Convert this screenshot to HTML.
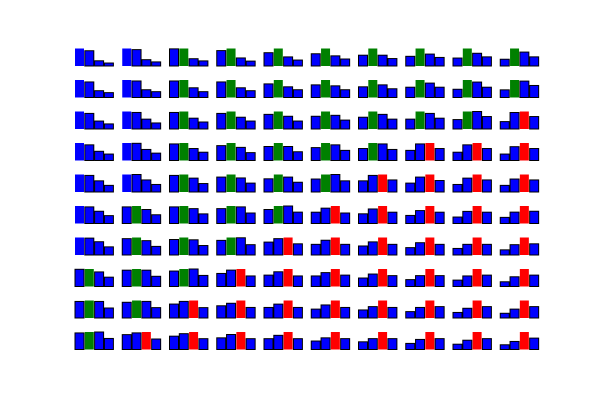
<!DOCTYPE html>
<html><head><meta charset="utf-8"><style>
html,body{margin:0;padding:0;background:#fff;}
svg{display:block;}
</style></head><body>
<svg id="chart" width="600" height="400" viewBox="0 0 600 400" xmlns="http://www.w3.org/2000/svg">
<rect width="600" height="400" fill="#fff"/>
</svg>
<script>
// values per panel, row by row (rows 0..9), each row holds 10 panels of 4 bars
const row0=[[47,41,14,8],[47,44,17,11],[47,48,20,14],[44,50,23,14],[38,50,26,17],[35,50,29,20],[29,47,29,20],[26,47,32,23],[20,44,32,23],[17,44,35,23]];
const row1=[[54,48,21,15],[54,51,24,18],[51,54,30,18],[48,54,30,21],[42,54,33,24],[39,54,36,24],[33,54,39,27],[30,51,42,30],[24,51,45,30],[21,48,45,33]];
const row2=[[55,49,25,16],[55,52,31,19],[52,55,34,22],[49,55,37,25],[46,55,40,25],[40,55,43,28],[37,55,46,31],[31,55,49,34],[28,52,52,37],[22,49,52,37]];
const row3=[[57,51,30,21],[57,56,36,24],[54,57,39,27],[51,60,45,27],[48,60,48,30],[42,57,51,33],[39,57,54,36],[33,54,57,39],[27,51,57,39],[21,45,57,39]];
const row4=[[58,55,37,22],[58,58,40,25],[55,58,46,28],[52,61,49,31],[46,61,52,34],[43,58,58,37],[37,55,58,40],[31,52,61,40],[25,46,58,40],[22,43,58,40]];
const row5=[[60,57,42,27],[57,60,48,30],[57,60,51,33],[51,60,57,36],[48,60,60,39],[42,57,65,39],[36,54,65,42],[30,48,65,42],[24,45,65,42],[21,39,60,42]];
const row6=[[58,56,44,27],[57,61,50,30],[54,61,53,33],[51,61,60,36],[45,57,61,39],[39,54,64,39],[33,48,64,39],[27,45,64,39],[24,39,64,39],[18,36,61,39]];
const row7=[[59,60,50,32],[56,60,56,35],[53,60,60,38],[47,59,63,38],[41,53,63,38],[38,50,63,41],[32,47,66,41],[26,41,66,41],[23,38,63,41],[17,35,63,41]];
const row8=[[53,56,53,32],[53,59,56,35],[47,56,59,35],[44,53,63,38],[38,50,63,38],[32,47,63,38],[29,41,63,38],[23,38,63,41],[20,35,63,41],[17,32,63,41]];
const row9=[[54,57,57,36],[51,57,60,36],[48,57,63,39],[42,54,63,39],[39,51,63,39],[32,44,66,41],[29,41,66,41],[23,38,66,41],[20,35,66,41],[17,29,63,41]];
const rows=[row0,row1,row2,row3,row4,row5,row6,row7,row8,row9];
const maxColors=['#0000ff','#008000','#ff0000','#0000ff'];

const svg=document.getElementById('chart');
const NS='http://www.w3.org/2000/svg';
const colX=c=>75+c*47.25;
const rowBase=r=>66+r*31.5;
const barX=(c,i)=>colX(c)+i*9.8;
const barH=(v,m)=>v/m*17.5;

rows.forEach((row,r)=>{
  row.forEach((vals,c)=>{
    const g=document.createElementNS(NS,'g');
    
    
    const m=Math.max(...vals);
    const mi=vals.indexOf(m);
    vals.forEach((v,i)=>{
      const h=barH(v,m);
      const rect=document.createElementNS(NS,'rect');
      rect.setAttribute('x',barX(c,i));
      rect.setAttribute('y',rowBase(r)-h);
      rect.setAttribute('width',9);
      rect.setAttribute('height',h);
      if(i===mi){
        rect.setAttribute('fill',maxColors[i]);
      }else{
        rect.setAttribute('fill','#0000ff');
        rect.setAttribute('stroke','#000');
        rect.setAttribute('stroke-width','1');
      }
      
      
      g.appendChild(rect);
    });
    svg.appendChild(g);
  });
});
</script>
</body></html>
